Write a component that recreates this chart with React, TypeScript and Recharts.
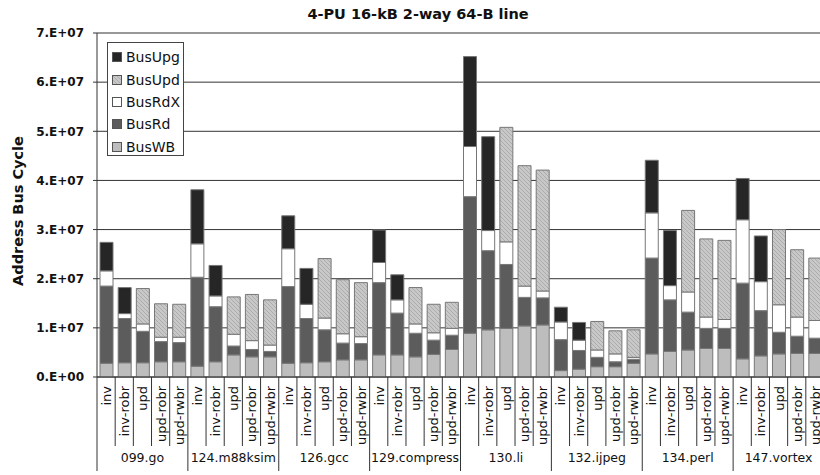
import React from 'react';
import { BarChart, Bar, XAxis, YAxis, CartesianGrid } from 'recharts';

// ---- data ----
const groups = ['099.go', '124.m88ksim', '126.gcc', '129.compress', '130.li', '132.ijpeg', '134.perl', '147.vortex'];
const protocols = ['inv', 'inv-robr', 'upd', 'upd-robr', 'upd-rwbr'];
const yTicks = [0, 1e7, 2e7, 3e7, 4e7, 5e7, 6e7, 7e7];
const yTickLabels = ['0.E+00', '1.E+07', '2.E+07', '3.E+07', '4.E+07', '5.E+07', '6.E+07', '7.E+07'];
const title = '4-PU 16-kB 2-way 64-B line';
const yTitle = 'Address Bus Cycle';

// values in millions of bus cycles, 8 benchmarks x 5 protocols
const busWB = [
  2.8, 2.9, 2.9, 3.1, 3.1,
  2.2, 3.1, 4.5, 4.1, 4.1,
  2.8, 2.9, 3.1, 3.5, 3.5,
  4.5, 4.5, 4.1, 4.6, 5.6,
  8.9, 9.6, 9.9, 10.4, 10.6,
  1.3, 1.6, 2.1, 2.1, 2.8,
  4.7, 5.2, 5.5, 5.8, 5.8,
  3.7, 4.3, 4.7, 4.8, 4.8,
];
const busRd = [
  15.7, 9.0, 6.4, 4.1, 3.9,
  18.1, 11.2, 1.8, 1.5, 1.1,
  15.6, 9.0, 6.5, 3.4, 3.3,
  14.7, 8.5, 4.8, 2.9, 2.9,
  27.8, 16.1, 13.0, 5.8, 5.5,
  6.3, 3.8, 1.9, 1.0, 0.8,
  19.5, 10.5, 7.7, 4.1, 4.1,
  15.4, 9.2, 4.4, 3.5, 3.1,
];
const busRdX = [
  3.1, 1.0, 1.5, 0.9, 1.1,
  6.8, 2.2, 2.4, 1.8, 1.3,
  7.7, 2.9, 2.4, 1.9, 1.4,
  4.1, 2.7, 1.9, 1.5, 1.4,
  10.2, 4.1, 4.6, 2.3, 1.4,
  3.6, 2.1, 1.5, 1.6, 0.4,
  9.2, 2.9, 4.1, 2.3, 1.8,
  12.9, 5.9, 5.6, 3.9, 3.6,
];
const busUpd = [
  0, 0, 7.2, 6.8, 6.7,
  0, 0, 7.6, 9.4, 9.2,
  0, 0, 12.1, 11.0, 11.0,
  0, 0, 7.4, 5.8, 5.3,
  0, 0, 23.3, 24.5, 24.6,
  0, 0, 5.8, 4.7, 5.6,
  0, 0, 16.6, 15.9, 16.1,
  0, 0, 15.3, 13.7, 12.7,
];
const busUpg = [
  5.8, 5.3, 0, 0, 0,
  11.0, 6.2, 0, 0, 0,
  6.7, 7.3, 0, 0, 0,
  6.6, 5.1, 0, 0, 0,
  18.3, 19.1, 0, 0, 0,
  3.0, 3.6, 0, 0, 0,
  10.7, 11.2, 0, 0, 0,
  8.4, 9.3, 0, 0, 0,
];
const MILLION = 1e6;

const data = groups.flatMap((g, gi) =>
  protocols.map((p, pi) => {
    const i = gi * 5 + pi;
    return {
      key: `${g}|${p}`,
      group: g,
      protocol: p,
      BusWB: busWB[i] * MILLION,
      BusRd: busRd[i] * MILLION,
      BusRdX: busRdX[i] * MILLION,
      BusUpd: busUpd[i] * MILLION,
      BusUpg: busUpg[i] * MILLION,
    };
  })
);

// ---- styles ----
const FONT = "'DejaVu Sans', sans-serif";
const TXT = '#111';
const SERIES = [
  { key: 'BusWB', fill: '#bdbdbd' },
  { key: 'BusRd', fill: '#5c5c5c' },
  { key: 'BusRdX', fill: '#ffffff' },
  { key: 'BusUpd', fill: 'url(#hatchUpd)' },
  { key: 'BusUpg', fill: '#262626' },
];
const BAR_STROKE = '#777777';

const CH_W = 830;
const CH_H = 475;
const PLOT_L = 97;
const PLOT_R = 824;
const PLOT_B = 377;
const SLOT = (PLOT_R - PLOT_L) / data.length;

function XTick(props: any) {
  const { x, y, index } = props;
  const gi = Math.floor(index / 5);
  const pi = index % 5;
  const left = x - SLOT / 2;
  return (
    <g>
      <line x1={left} x2={left} y1={y} y2={pi === 0 ? 471 : 446} stroke="#333" strokeWidth={1} />
      {index === data.length - 1 && (
        <line x1={x + SLOT / 2} x2={x + SLOT / 2} y1={y} y2={471} stroke="#333" strokeWidth={1} />
      )}
      <text
        transform={`translate(${x + 0.5},${y + 9}) rotate(-90)`}
        textAnchor="end"
        dominantBaseline="central"
        fontSize={13}
        fontFamily={FONT}
        fill={TXT}
      >
        {protocols[pi]}
      </text>
      {pi === 2 && (
        <text x={x} y={462} textAnchor="middle" fontSize={12.5} fontFamily={FONT} fill={TXT}>
          {groups[gi]}
        </text>
      )}
    </g>
  );
}

function Swatch({ fill }: { fill: string }) {
  return (
    <svg width={10} height={10} style={{ display: 'block' }}>
      <rect x={0.5} y={0.5} width={9} height={9} fill={fill} stroke="#555" strokeWidth={1} />
    </svg>
  );
}

function LegendBox() {
  const items = [...SERIES].reverse();
  return (
    <div
      style={{
        position: 'absolute',
        left: 107,
        top: 42,
        width: 77,
        height: 114,
        boxSizing: 'border-box',
        border: '1px solid #444',
        background: '#fff',
        paddingTop: 3,
        fontFamily: FONT,
        fontSize: 14,
        color: TXT,
      }}
    >
      {items.map((s) => (
        <div key={s.key} style={{ display: 'flex', alignItems: 'center', height: 22.4, paddingLeft: 4 }}>
          <Swatch fill={s.fill} />
          <span style={{ marginLeft: 4, lineHeight: '22px' }}>{s.key}</span>
        </div>
      ))}
    </div>
  );
}

export default function App() {
  return (
    <div
      style={{
        position: 'fixed',
        left: 0,
        top: 0,
        width: 820,
        height: 475,
        overflow: 'hidden',
        background: '#fff',
      }}
    >
      <BarChart
        width={CH_W}
        height={CH_H}
        data={data}
        margin={{ top: 33, right: CH_W - PLOT_R, bottom: 0, left: 0 }}
        barSize={13}
      >
        <defs>
          <pattern id="hatchUpd" patternUnits="userSpaceOnUse" width={4} height={4}>
            <rect width={4} height={4} fill="#c8c8c8" />
            <path d="M-1,-1 L5,5 M-1,3 L1,5 M3,-1 L5,1" stroke="#a4a4a4" strokeWidth={0.8} />
          </pattern>
        </defs>
        <CartesianGrid vertical={false} stroke="#333" strokeWidth={1} />
        <XAxis
          dataKey="key"
          type="category"
          interval={0}
          height={CH_H - PLOT_B}
          tickLine={false}
          tickSize={0}
          tickMargin={0}
          axisLine={{ stroke: '#333' }}
          tick={<XTick />}
        />
        <YAxis
          width={PLOT_L}
          domain={[0, 7e7]}
          ticks={yTicks}
          interval={0}
          allowDataOverflow
          tickSize={4}
          tickMargin={9}
          axisLine={{ stroke: '#333' }}
          tickLine={{ stroke: '#333' }}
          tickFormatter={(v: number) => yTickLabels[yTicks.indexOf(v)]}
          tick={{ fill: TXT, fontSize: 12, fontWeight: 'bold', fontFamily: FONT }}
        />
        {SERIES.map((s) => (
          <Bar
            key={s.key}
            dataKey={s.key}
            name={s.key}
            stackId="a"
            fill={s.fill}
            stroke={BAR_STROKE}
            strokeWidth={1}
            isAnimationActive={false}
          />
        ))}
      </BarChart>
      <LegendBox />
      <svg
        width={820}
        height={475}
        style={{ position: 'absolute', left: 0, top: 0, pointerEvents: 'none' }}
      >
        <text x={418} y={19} textAnchor="middle" fontSize={14.5} fontWeight="bold" fontFamily={FONT} fill={TXT}>
          {title}
        </text>
        <text
          transform="translate(23,211) rotate(-90)"
          textAnchor="middle"
          fontSize={14.5}
          fontWeight="bold"
          fontFamily={FONT}
          fill={TXT}
        >
          {yTitle}
        </text>
      </svg>
    </div>
  );
}
